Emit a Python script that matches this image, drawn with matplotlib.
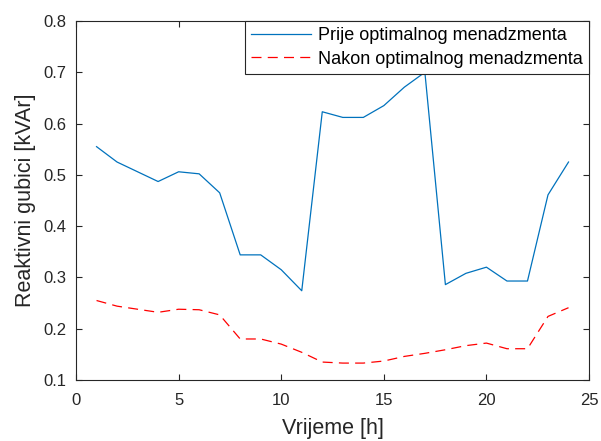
import matplotlib
matplotlib.use("Agg")
import matplotlib.pyplot as plt

hours = list(range(1, 25))
prije = [0.555, 0.525, 0.506, 0.487, 0.506, 0.502, 0.465, 0.344, 0.344, 0.315, 0.274, 0.623,
         0.612, 0.612, 0.635, 0.671, 0.700, 0.286, 0.308, 0.320, 0.293, 0.293, 0.461, 0.525]
nakon = [0.255, 0.244, 0.238, 0.232, 0.238, 0.237, 0.227, 0.180, 0.180, 0.170, 0.154, 0.135,
         0.133, 0.133, 0.137, 0.146, 0.152, 0.159, 0.167, 0.172, 0.161, 0.161, 0.224, 0.241]
labels = ["Prije optimalnog menadzmenta", "Nakon optimalnog menadzmenta"]
xticks = [0, 5, 10, 15, 20, 25]
yticks = [0.1, 0.2, 0.3, 0.4, 0.5, 0.6, 0.7, 0.8]

plt.rcParams['font.family'] = ['Liberation Sans', 'DejaVu Sans']

fig = plt.figure(figsize=(6.01, 4.41), dpi=100)
ax = fig.add_axes([0.1265, 0.1383, 0.8536, 0.8141])
ax.plot(hours, prije, color='#0072BD', lw=0.9, label=labels[0])
ax.plot(hours, nakon, color='#FF0000', lw=0.9, ls=(0, (8, 5)), label=labels[1])
ax.set_xlim(0, 25)
ax.set_ylim(0.1, 0.8)
ax.set_xticks(xticks)
ax.set_yticks(yticks)
ax.set_yticklabels([f"{v:.1f}" for v in yticks])
ax.tick_params(direction='in', top=True, right=True, labelsize=12, colors='#262626', length=4, width=0.8)
ax.tick_params(axis='x', pad=9)
ax.tick_params(axis='y', pad=7)
for s in ax.spines.values():
    s.set_color('#262626')
    s.set_linewidth(0.8)
ax.set_xlabel("Vrijeme [h]", fontsize=15.5, color='#262626', labelpad=7.5)
ax.set_ylabel("Reaktivni gubici [kVAr]", fontsize=15.5, color='#262626', labelpad=5)
leg = ax.legend(loc='upper right', borderaxespad=0, fontsize=13, fancybox=False,
                framealpha=1, edgecolor='#262626', handlelength=3.3, borderpad=0.35,
                labelspacing=0.35, handletextpad=0.4)
leg.get_frame().set_linewidth(0.8)
fig.savefig("out.png", dpi=100)
